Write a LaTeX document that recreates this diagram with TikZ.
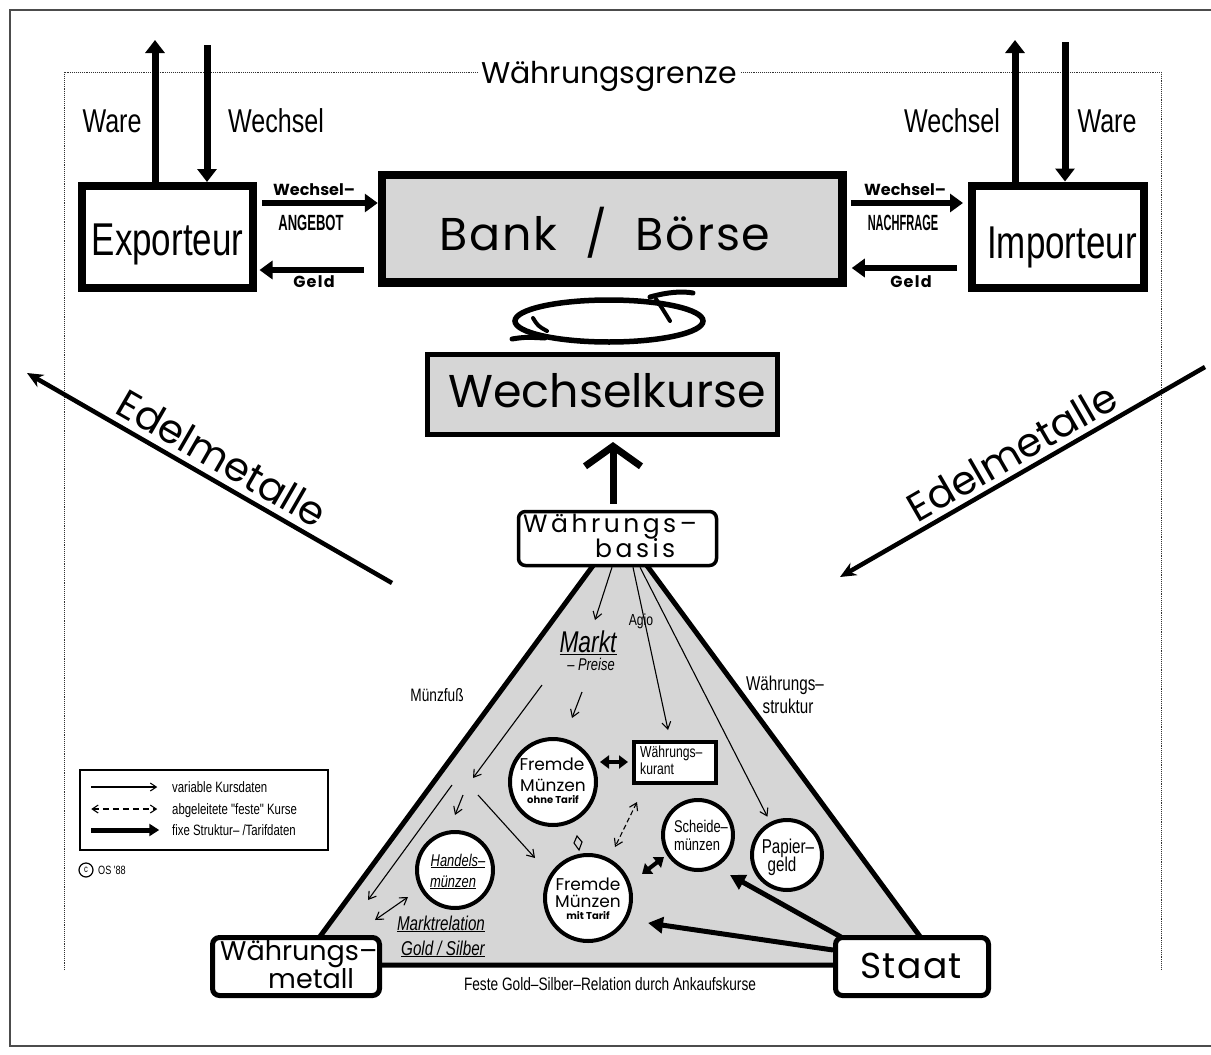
\documentclass[tikz,border=0pt]{standalone}
\usepackage{fontspec}
\setmainfont{Poppins}
\newfontfamily\cond[FakeStretch=0.76]{Liberation Sans}
\usetikzlibrary{arrows.meta,calc,shapes.geometric}
\definecolor{shade}{gray}{0.84}
\definecolor{framecol}{gray}{0.3}
\begin{document}
\begin{tikzpicture}[x=1pt,y=-1pt,
  box/.style={draw, line width=8pt, inner sep=0pt},
  rbox/.style={draw, rounded corners=7pt, fill=white, inner sep=0pt},
  coin/.style={draw, circle, line width=4pt, fill=white, inner sep=0pt},
  lbl/.style={inner sep=0pt, anchor=base},
  fat/.style={line width=7pt, -{Triangle[length=13pt,width=19pt]}},
  fatsix/.style={line width=6pt, -{Triangle[length=13pt,width=18pt]}},
  edel/.style={line width=4.5pt, -{Stealth[length=16pt,width=14pt]}},
  thinarr/.style={line width=1.1pt, -{Straight Barb[length=7pt,width=9pt]}},
  thindbl/.style={line width=1.1pt, {Straight Barb[length=7pt,width=9pt]}-{Straight Barb[length=7pt,width=9pt]}},
  dashdbl/.style={line width=1.1pt, dash pattern=on 5pt off 3pt, {Straight Barb[length=7pt,width=9pt]}-{Straight Barb[length=7pt,width=9pt]}},
  fatdbl/.style={line width=4pt, {Triangle[length=9pt,width=13pt]}-{Triangle[length=9pt,width=13pt]}},
  staatarr/.style={line width=5pt, -{Triangle[length=15pt,width=16pt]}},
  chev/.style={line width=7pt, -{Straight Barb[length=20pt,width=56pt]}},
  coinfont/.style={font=\fontsize{17}{18}\selectfont},
  tiny/.style={font=\bfseries\fontsize{10}{12}\selectfont},
  condf/.style={font=\cond\fontsize{#1}{#1}\selectfont},
  condi/.style={font=\cond\itshape\fontsize{#1}{#1}\selectfont}
]
\useasboundingbox (0,0) rectangle (1211,1055);
\fill[white] (0,0) rectangle (1211,1055);

% outer frame
\draw[framecol, line width=1.8pt] (10,10) rectangle (1216,1046);

% Waehrungsgrenze (dotted border)
\draw[densely dotted, line width=0.9pt, black!80] (64,970) -- (64,72) -- (1161,72) -- (1161,970);
\node[lbl, fill=white, inner xsep=3pt] (tgrenze) at (609,83) {\fontsize{30}{36}\selectfont Währungsgrenze};

% top boxes
\node[box, fill=shade, line width=8.5pt, minimum width=460.5, minimum height=107.5] (bank) at (612.25,228.75) {};
\node[box, minimum width=170.5, minimum height=102] (exp) at (167.25,237) {};
\node[box, minimum width=171.5, minimum height=102] (imp) at (1057.75,236.5) {};
\node[lbl] (tbank) at (605,250) {\fontsize{46}{50}\selectfont\addfontfeature{LetterSpace=4}Bank\ \ /\ \ Börse};
\node[lbl] (texp) at (167.5,255) {\cond\fontsize{46}{50}\selectfont Exporteur};
\node[lbl] (timp) at (1062,258) {\cond\fontsize{46}{50}\selectfont Importeur};

% vertical arrows
\coordinate (wareL) at (155,40);
\coordinate (wechL) at (207,45);
\coordinate (wechR) at (1015,40);
\coordinate (wareR) at (1065,42);
\draw[fat] (exp.north -| wareL) -- (wareL);
\draw[fat] (wechL) -- (exp.north -| wechL);
\draw[fat] (imp.north -| wechR) -- (wechR);
\draw[fat] (wareR) -- (imp.north -| wareR);
\node[lbl] (tware1) at (112,132) {\cond\fontsize{33}{36}\selectfont Ware};
\node[lbl] (twech1) at (276,132) {\cond\fontsize{33}{36}\selectfont Wechsel};
\node[lbl] (twech2) at (952,132) {\cond\fontsize{33}{36}\selectfont Wechsel};
\node[lbl] (tware2) at (1107,132) {\cond\fontsize{33}{36}\selectfont Ware};

% horizontal arrows
\draw[fatsix] ([xshift=5.5pt,yshift=34pt]exp.east) -- ([yshift=25.75pt]bank.west);
\draw[fatsix] ([xshift=-14pt,yshift=-41.25pt]bank.west) -- ([xshift=3pt,yshift=-33pt]exp.east);
\draw[fatsix] ([xshift=4pt,yshift=25.75pt]bank.east) -- ([xshift=-5pt,yshift=33.5pt]imp.west);
\draw[fatsix] ([xshift=-11pt,yshift=-31.5pt]imp.west) -- ([xshift=5pt,yshift=-39.25pt]bank.east);
\node[lbl] (tws1) at (314,195) {\bfseries\fontsize{16}{18}\selectfont Wechsel–};
\node[lbl] (tang) at (311,230) {\cond\bfseries\fontsize{22}{24}\selectfont\scalebox{0.78}[1]{ANGEBOT}};
\node[lbl] (tgeld1) at (314,287) {\bfseries\fontsize{16}{18}\selectfont\addfontfeature{LetterSpace=8}Geld};
\node[lbl] (tws2) at (905,195) {\bfseries\fontsize{16}{18}\selectfont Wechsel–};
\node[lbl] (tnach) at (903,230) {\cond\bfseries\fontsize{22}{24}\selectfont\scalebox{0.66}[1]{NACHFRAGE}};
\node[lbl] (tgeld2) at (911,287) {\bfseries\fontsize{16}{18}\selectfont\addfontfeature{LetterSpace=8}Geld};

% cycle loop
\node[draw, ellipse, line width=5.5pt, minimum width=188, minimum height=42, inner sep=0] (loop) at (609,321) {};
\draw[line width=5pt, line cap=round] (650,297) .. controls (668,292) and (682,291) .. (693,293);
\draw[line width=4pt, line cap=round] (656,299) .. controls (662,308) .. (670,321);
\draw[line width=5pt, line cap=round] (512,339) .. controls (525,337) .. (545,338);
\draw[line width=4pt, line cap=round] (533,318) .. controls (538,326) .. (547,331);

% Wechselkurse
\node[box, line width=5pt, fill=shade, minimum width=350, minimum height=80] (wk) at (602.5,394.5) {};
\node[lbl] (twk) at (607,407) {\fontsize{46}{50}\selectfont Wechselkurse};

% Edelmetalle
\coordinate (edA) at (392,583);
\coordinate (edB) at (27,373);
\coordinate (edC) at (1205,367);
\coordinate (edD) at (840,577);
\draw[edel] (edA) -- (edB);
\draw[edel] (edC) -- (edD);
\node[inner sep=0pt, rotate=-30] (tedel1) at (222,458) {\fontsize{40}{44}\selectfont Edelmetalle};
\node[inner sep=0pt, rotate=30] (tedel2) at (1012,452) {\fontsize{40}{44}\selectfont Edelmetalle};

% triangle
\filldraw[fill=shade, line width=5pt] (620,529) -- (299,965) -- (941,965) -- cycle;

% base boxes
\node[rbox, line width=3.5pt, minimum width=198, minimum height=54] (basis) at (617.5,538.5) {};
\node[lbl, anchor=base west] (tbasis1) at (523,532) {\fontsize{25}{30}\selectfont\addfontfeature{LetterSpace=14}Währungs–};
\node[lbl, anchor=base west] (tbasis2) at (595,557) {\fontsize{25}{30}\selectfont\addfontfeature{LetterSpace=14}basis};
\node[rbox, line width=5pt, minimum width=167, minimum height=58] (metall) at (296,966.5) {};
\node[lbl, anchor=base west] (tmet1) at (220,960) {\fontsize{27}{30}\selectfont Währungs–};
\node[lbl, anchor=base west] (tmet2) at (268,988) {\fontsize{27}{30}\selectfont metall};
\node[rbox, line width=5pt, minimum width=153, minimum height=58] (staat) at (912,966.5) {};
\node[lbl] (tstaat) at (911,978) {\fontsize{36}{40}\selectfont\addfontfeature{LetterSpace=4}Staat};

% up arrow
\coordinate (chx) at (613,0);
\draw[chev] ([yshift=6pt]basis.north -| chx) -- ([yshift=-5pt]wk.south -| chx);

% coins
\node[coin, minimum size=86] (fo) at (553,782) {};
\node[lbl, coinfont] (fo1) at (552,770) {Fremde};
\node[lbl, coinfont] (fo2) at (553,791) {Münzen};
\node[lbl, tiny] (fo3) at (553,803) {ohne Tarif};
\node[coin, minimum size=86] (fm) at (588,898) {};
\node[lbl, coinfont] (fm1) at (588,890) {Fremde};
\node[lbl, coinfont] (fm2) at (588,907) {Münzen};
\node[lbl, tiny] (fm3) at (588,919) {mit Tarif};
\node[coin, minimum size=70] (sch) at (698,835) {};
\node[lbl, condf=17] (sch1) at (701,832) {Scheide–};
\node[lbl, condf=17] (sch2) at (697,850) {münzen};
\node[coin, minimum size=70] (pap) at (787,855) {};
\node[lbl, condf=20] (pap1) at (788,853) {Papier–};
\node[lbl, condf=20] (pap2) at (782,871) {geld};
\node[coin, minimum size=76] (han) at (455,870) {};
\node[lbl, condi=17] (han1) at (458,866) {\underline{Handels–}};
\node[lbl, condi=17] (han2) at (453,887) {\underline{münzen}};
\node[draw, line width=4pt, fill=white, minimum width=82, minimum height=41, inner sep=0] (kurant) at (675,762.5) {};
\node[lbl, anchor=base west, condf=16] (ku1) at (640,757) {Währungs–};
\node[lbl, anchor=base west, condf=16] (ku2) at (640,774) {kurant};

% labels in triangle
\node[lbl] (tmarkt) at (588,652) {\cond\itshape\fontsize{30}{32}\selectfont\underline{Markt}};
\node[lbl] (tpreise) at (591,670) {\cond\itshape\fontsize{17}{18}\selectfont – Preise};
\node[lbl] (tagio) at (641,625) {\cond\fontsize{16}{18}\selectfont Agio};
\node[lbl] (tmfuss) at (437,701) {\cond\fontsize{18}{20}\selectfont Münzfuß};
\node[lbl] (tws3) at (785,690) {\cond\fontsize{20}{22}\selectfont Währungs–};
\node[lbl] (tstr) at (788,713) {\cond\fontsize{20}{22}\selectfont struktur};
\node[lbl] (tmr1) at (441,930) {\cond\itshape\fontsize{20}{22}\selectfont\underline{Marktrelation}};
\node[lbl] (tmr2) at (443,955) {\cond\itshape\fontsize{20}{22}\selectfont\underline{Gold / Silber}};
\node[lbl] (tfeste) at (610,990) {\cond\fontsize{18}{20}\selectfont Feste Gold–Silber–Relation durch Ankaufskurse};

% thin arrows from Waehrungsbasis
\coordinate (mk) at (595,620);
\draw[thinarr] ([xshift=-5.5pt]basis.south) -- (mk);
\draw[thinarr] ([xshift=15.5pt]basis.south) -- ([xshift=-7pt,yshift=10pt]kurant.north);
\draw[thinarr, shorten >=6pt] ([xshift=22.5pt]basis.south) -- (pap);

% thin arrows from Markt
\coordinate (p1) at (582,692); \coordinate (p2) at (572,718);
\draw[thinarr] (p1) -- (p2);
\coordinate (p3) at (542,685); \coordinate (p4) at (473,778);
\draw[thinarr] (p3) -- (p4);
\coordinate (p5) at (463,795); \coordinate (p6) at (455,815);
\draw[thinarr] (p5) -- (p6);
\coordinate (p7) at (478,795); \coordinate (p8) at (535,858);
\draw[thinarr] (p7) -- (p8);
\coordinate (p9) at (452,785); \coordinate (p10) at (368,900);
\draw[thinarr] (p9) -- (p10);
\coordinate (p11) at (375,920); \coordinate (p12) at (408,897);
\draw[thindbl] (p11) -- (p12);

% dashed and fat double arrows
\coordinate (d1) at (637,802); \coordinate (d2) at (615,847);
\draw[dashdbl] (d1) -- (d2);
\draw[line width=1.1pt] (577,836) -- (582,842) -- (579,850) -- (574,843) -- cycle;
\coordinate (f1) at (600,762); \coordinate (f2) at (628,762);
\draw[fatdbl] (f1) -- (f2);
\coordinate (f3) at (642,874); \coordinate (f4) at (664,857);
\draw[fatdbl] (f3) -- (f4);

% Staat arrows
\coordinate (s1) at (730,875);
\coordinate (s2) at (648,923);
\draw[staatarr] ([xshift=8pt,yshift=-2pt]staat.north west) -- (s1);
\draw[staatarr] ([yshift=16.5pt]staat.west) -- (s2);

% legend
\node[draw, line width=1.5pt, minimum width=248, minimum height=80, inner sep=0] (legend) at (204,810) {};
\draw[line width=1.1pt, -{Straight Barb[length=6pt,width=8pt]}] ($(legend.west)+(12,-23)$) -- ($(legend.west)+(78,-23)$);
\draw[line width=1.1pt, dash pattern=on 6pt off 4pt, {Straight Barb[length=6pt,width=8pt]}-{Straight Barb[length=6pt,width=8pt]}] ($(legend.west)+(12,-1)$) -- ($(legend.west)+(78,-1)$);
\draw[line width=5pt, -{Triangle[length=10pt,width=12pt]}] ($(legend.west)+(12,20)$) -- ($(legend.west)+(80,20)$);
\node[lbl, anchor=base west] (tl1) at (172,792) {\cond\fontsize{15}{16}\selectfont variable Kursdaten};
\node[lbl, anchor=base west] (tl2) at (172,814) {\cond\fontsize{15}{16}\selectfont abgeleitete "feste" Kurse};
\node[lbl, anchor=base west] (tl3) at (172,835) {\cond\fontsize{15}{16}\selectfont fixe Struktur– /Tarifdaten};
\node[circle, draw, line width=1.2pt, minimum size=14, inner sep=0] (copyc) at (86,870) {\cond\fontsize{10}{10}\selectfont c};
\node[lbl, anchor=base west] (tos) at (98,874) {\cond\fontsize{12}{12}\selectfont OS '88};
\end{tikzpicture}
\end{document}
